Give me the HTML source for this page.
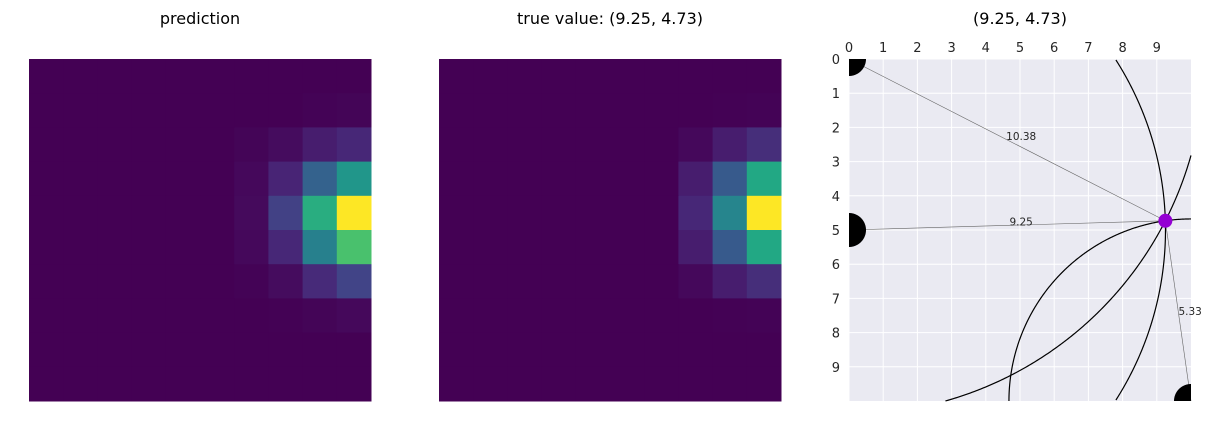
<!DOCTYPE html>
<html><head><meta charset="utf-8">
<style>
html,body{margin:0;padding:0;background:#fff;width:1212px;height:435px;overflow:hidden;font-family:"Liberation Sans","DejaVu Sans",sans-serif;}
svg{display:block;}
svg text{font-family:"DejaVu Sans","Liberation Sans",sans-serif;}
</style></head>
<body>
<svg id="chart" width="1212" height="435" xmlns="http://www.w3.org/2000/svg">
<text x="200" y="24" text-anchor="middle" font-size="16" fill="#000">prediction</text>
<text x="610" y="24" text-anchor="middle" font-size="16" fill="#000">true value: (9.25, 4.73)</text>
<text x="1020" y="24" text-anchor="middle" font-size="16" fill="#000">(9.25, 4.73)</text>
<g id="pred"></g>
<g id="truth"></g>
<g id="geo"></g>
</svg>
<script>
const predRows=[[0,0,0,0,0,0,0,0,0,0],[0,0,0,0,0,0,0,0,0.005,0.01],[0,0,0,0,0,0,0.01,0.03,0.08,0.11],[0,0,0,0,0,0,0.02,0.1,0.31,0.52],[0,0,0,0,0,0,0.025,0.19,0.62,1.0],[0,0,0,0,0,0,0.02,0.11,0.43,0.71],[0,0,0,0,0,0,0.005,0.03,0.12,0.2],[0,0,0,0,0,0,0,0.003,0.01,0.02],[0,0,0,0,0,0,0,0,0,0],[0,0,0,0,0,0,0,0,0,0]];
const trueRows=[[0,0,0,0,0,0,0,0,0,0],[0,0,0,0,0,0,0,0,0.003,0.005],[0,0,0,0,0,0,0,0.02,0.08,0.13],[0,0,0,0,0,0,0,0.08,0.28,0.6],[0,0,0,0,0,0,0,0.11,0.45,1.0],[0,0,0,0,0,0,0,0.08,0.28,0.6],[0,0,0,0,0,0,0,0.02,0.08,0.13],[0,0,0,0,0,0,0,0,0.003,0.005],[0,0,0,0,0,0,0,0,0,0],[0,0,0,0,0,0,0,0,0,0]];
const anchors=[[0,0],[0,5],[10,10]];
const target=[9.25,4.73];
const distLabels=["10.38","9.25","5.33"];
const ticks=[0,1,2,3,4,5,6,7,8,9];

const NS="http://www.w3.org/2000/svg";
const V=[[68,1,84],[72,36,117],[65,68,135],[53,95,141],[42,120,142],[33,145,140],[34,168,132],[68,191,112],[122,209,81],[189,223,38],[253,231,37]];
function viridis(t){t=Math.max(0,Math.min(1,t))*10;const i=Math.min(9,Math.floor(t)),f=t-i;const a=V[i],b=V[i+1];return `rgb(${a.map((c,k)=>Math.round(c+(b[k]-c)*f)).join(',')})`;}
function mk(tag,attrs,parent){const e=document.createElementNS(NS,tag);for(const k in attrs)e.setAttribute(k,attrs[k]);parent.appendChild(e);return e;}
const S=34.2;
function heat(gid,x0,rows){const g=document.getElementById(gid);rows.forEach((r,i)=>r.forEach((v,j)=>{
 const c=mk('rect',{x:x0+j*S,y:59+i*S,width:S+0.5,height:S+0.5,fill:viridis(v)},g);
 
 
}));}
heat('pred',29,predRows);heat('truth',439,trueRows);

const g=document.getElementById('geo');
const X=v=>849+v*S, Y=v=>59+v*S;
const L=849,T=59,R=1191,B=401;
const bg=mk('rect',{x:L,y:T,width:R-L,height:B-T,fill:'#eaeaf2'},g);


ticks.forEach(t=>{
 mk('line',{x1:X(t),x2:X(t),y1:T,y2:B,stroke:'#fff','stroke-width':1},g);
 mk('line',{x1:L,x2:R,y1:Y(t),y2:Y(t),stroke:'#fff','stroke-width':1},g);
 const tx=mk('text',{x:X(t),y:52,'text-anchor':'middle','font-size':13,fill:'#262626'},g);tx.textContent=t;
 
 
 const ty=mk('text',{x:840,y:Y(t)+5,'text-anchor':'end','font-size':13,fill:'#262626'},g);ty.textContent=t;
 
 
});
const inside=(x,y)=>x>=L-0.01&&x<=R+0.01&&y>=T-0.01&&y<=B+0.01;
function clippedCircle(cx,cy,r,parent,name,fill){
 const N=1440;let seg=[];const segs=[];
 for(let k=0;k<=N;k++){const a=k/N*2*Math.PI;const x=cx+r*Math.cos(a),y=cy+r*Math.sin(a);
  if(inside(x,y))seg.push(x.toFixed(2)+','+y.toFixed(2));else{if(seg.length>1)segs.push(seg);seg=[];}}
 if(seg.length>1)segs.push(seg);
 segs.forEach(s=>{const pl=mk('polyline',{points:s.join(' '),fill:'none',stroke:'#000','stroke-width':1.2},parent);
  
  });
}
anchors.forEach((a,i)=>{
 const r=Math.hypot(target[0]-a[0],target[1]-a[1]);
 clippedCircle(X(a[0]),Y(a[1]),r*S,g,'distance-circle');
 const l=mk('line',{x1:X(a[0]),y1:Y(a[1]),x2:X(target[0]),y2:Y(target[1]),stroke:'#666','stroke-width':0.6},g);
 
 
});
// anchor dots drawn as clipped filled polygons
anchors.forEach(a=>{
 const cx=X(a[0]),cy=Y(a[1]),r=17,pts=[];
 for(let k=0;k<=180;k++){const an=k/180*2*Math.PI;let x=cx+r*Math.cos(an),y=cy+r*Math.sin(an);
  x=Math.max(L,Math.min(R,x));y=Math.max(T,Math.min(B,y));pts.push(x.toFixed(2)+','+y.toFixed(2));}
 const d=mk('polygon',{points:pts.join(' '),fill:'#000'},g);
 
 
});
anchors.forEach((a,i)=>{
 const mx=(X(a[0])+X(target[0]))/2, my=(Y(a[1])+Y(target[1]))/2;
 const t=mk('text',{x:mx+(i==2?12:14),y:my+(i==2?4:0),'text-anchor':'middle','font-size':10.5,fill:'#262626'},g);
 t.textContent=distLabels[i];
 
 
});
const p=mk('circle',{cx:X(target[0]),cy:Y(target[1]),r:7,fill:'#9400d3'},g);


</script>
</body></html>
